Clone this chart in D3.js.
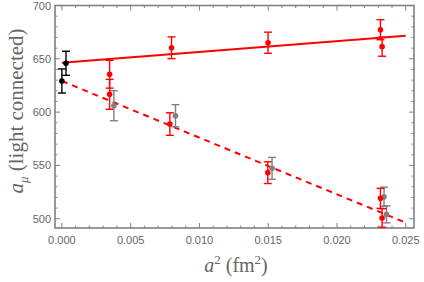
<!DOCTYPE html>
<html>
<head>
<meta charset="utf-8">
<script src="https://cdn.jsdelivr.net/npm/d3@7"></script>
<style>
  body { margin: 0; background: #fff; }
  text { font-family: "Liberation Sans", Arial, sans-serif; }
</style>
</head>
<body>
<svg id="chart" width="424" height="282"></svg>
<script>
// continuum data
const blackX = [0.0, 0.0003];
const blackY = [629.2, 645.8];
const blackErr = [11.3, 11.3];

const redX = [0.00347, 0.00347, 0.00797, 0.00785, 0.01499, 0.01497, 0.02316, 0.02328, 0.02316, 0.02328];
const redY = [635.5, 616.7, 660.4, 588.8, 665.1, 543.2, 677.3, 661.4, 519.1, 500.7];
const redErr = [13.0, 14.0, 10.2, 10.6, 9.9, 10.2, 9.4, 9.0, 9.4, 8.7];

const grayX = [0.00378, 0.00826, 0.01528, 0.02342, 0.0236];
const grayY = [606.0, 596.6, 547.3, 520.6, 504.1];
const grayErr = [14.1, 10.4, 10.2, 9.0, 8.0];

const fitX = [0.0, 0.025];
const solidFitY = [646.3, 671.6];
const dashedFitY = [629.2, 496.3];

const xTicks = [0, 0.005, 0.01, 0.015, 0.02, 0.025];
const yTicks = [500, 550, 600, 650, 700];

const svg = d3.select('#chart');
const plotLeft = 55, plotRight = 414, plotTop = 5.5, plotBottom = 228;

const x = d3.scaleLinear().domain([-0.0005, 0.0256]).range([plotLeft, plotRight]);
const y = d3.scaleLinear().domain([491.3, 700]).range([plotBottom, plotTop]);

const frameColor = '#808080';
const labelColor = '#666';

// frame
svg.append('rect')
    .attr('x', plotLeft).attr('y', plotTop)
    .attr('width', plotRight - plotLeft).attr('height', plotBottom - plotTop)
    .attr('fill', 'none')
    .attr('stroke', frameColor)
    .attr('stroke-width', 1.6);

// ticks on all four sides
const xMinor = d3.range(0, 0.0256, 0.001);
const yMinor = d3.range(500, 701, 10);

const tg = svg.append('g').attr('stroke', frameColor).attr('stroke-width', 1);
xMinor.forEach(function (d) {
    const isMajor = Math.abs(Math.round(d / 0.005) * 0.005 - d) < 1e-9;
    const len = isMajor ? 5 : 2.5;
    tg.append('line').attr('x1', x(d)).attr('x2', x(d)).attr('y1', plotBottom).attr('y2', plotBottom - len);
    tg.append('line').attr('x1', x(d)).attr('x2', x(d)).attr('y1', plotTop).attr('y2', plotTop + len);
});
yMinor.forEach(function (d) {
    const isMajor = d % 50 === 0;
    const len = isMajor ? 5 : 2.5;
    tg.append('line').attr('x1', plotLeft).attr('x2', plotLeft + len).attr('y1', y(d)).attr('y2', y(d));
    tg.append('line').attr('x1', plotRight).attr('x2', plotRight - len).attr('y1', y(d)).attr('y2', y(d));
});

// tick labels
svg.append('g').selectAll('text')
    .data(xTicks)
    .enter().append('text')
    .attr('x', function (d) { return x(d); })
    .attr('y', plotBottom + 16)
    .attr('text-anchor', 'middle')
    .attr('font-size', 11)
    .attr('fill', labelColor)
    .text(d3.format('.3f'));

svg.append('g').selectAll('text')
    .data(yTicks)
    .enter().append('text')
    .attr('x', plotLeft - 4)
    .attr('y', function (d) { return y(d) + 4; })
    .attr('text-anchor', 'end')
    .attr('font-size', 11)
    .attr('fill', labelColor)
    .text(function (d) { return d; });

// fit lines
const line = d3.line().x(function (d) { return x(d[0]); }).y(function (d) { return y(d[1]); });
svg.append('path')
    .attr('d', line(d3.zip(fitX, solidFitY)))
    .attr('fill', 'none').attr('stroke', '#ff0000').attr('stroke-width', 2);
svg.append('path')
    .attr('d', line(d3.zip(fitX, dashedFitY)))
    .attr('fill', 'none').attr('stroke', '#ff0000').attr('stroke-width', 2)
    .attr('stroke-dasharray', '6,5');

// error bars with caps + points
function drawSeries(xs, ys, errs, color) {
    const g = svg.append('g');
    const data = d3.zip(xs, ys, errs);
    const cap = 4;
    data.forEach(function (d) {
        const cx = x(d[0]);
        const y0 = y(d[1] - d[2]), y1 = y(d[1] + d[2]);
        g.append('line').attr('x1', cx).attr('x2', cx).attr('y1', y0).attr('y2', y1)
            .attr('stroke', color).attr('stroke-width', 1.4);
        g.append('line').attr('x1', cx - cap).attr('x2', cx + cap).attr('y1', y0).attr('y2', y0)
            .attr('stroke', color).attr('stroke-width', 1.4);
        g.append('line').attr('x1', cx - cap).attr('x2', cx + cap).attr('y1', y1).attr('y2', y1)
            .attr('stroke', color).attr('stroke-width', 1.4);
    });
    g.selectAll('circle')
        .data(data)
        .enter().append('circle')
        .attr('cx', function (d) { return x(d[0]); })
        .attr('cy', function (d) { return y(d[1]); })
        .attr('r', 2.8)
        .attr('fill', color);
}
drawSeries(grayX, grayY, grayErr, '#808080');
drawSeries(redX, redY, redErr, '#ff0000');
drawSeries(blackX, blackY, blackErr, '#000000');

// axis labels
const xl = svg.append('text')
    .attr('x', 236).attr('y', 272)
    .attr('text-anchor', 'middle')
    .attr('font-size', 20)
    .attr('fill', labelColor)
    .style('font-family', '"Liberation Serif", "Times New Roman", serif');
xl.append('tspan').attr('font-style', 'italic').text('a');
xl.append('tspan').attr('font-size', 13).attr('dy', -8).text('2');
xl.append('tspan').attr('dy', 8).text(' (fm');
xl.append('tspan').attr('font-size', 13).attr('dy', -8).text('2');
xl.append('tspan').attr('dy', 8).text(')');

const yl = svg.append('text')
    .attr('transform', 'translate(23,111) rotate(-90)')
    .attr('text-anchor', 'middle')
    .attr('font-size', 21)
    .attr('fill', labelColor)
    .style('font-family', '"Liberation Serif", "Times New Roman", serif');
yl.append('tspan').attr('font-style', 'italic').text('a');
yl.append('tspan').attr('font-style', 'italic').attr('font-size', 13).attr('dy', 5).text('μ');
yl.append('tspan').attr('dy', -5).text(' (light connected)');
</script>
</body>
</html>
